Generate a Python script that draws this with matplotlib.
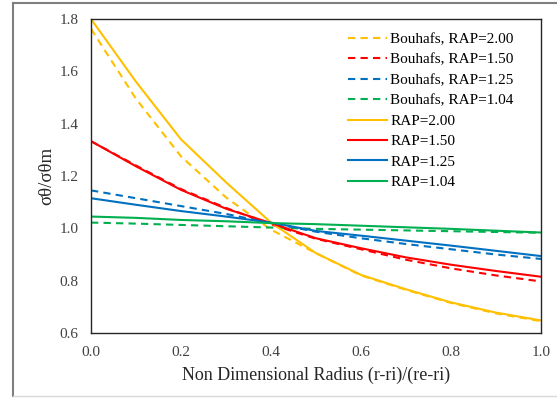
import matplotlib
matplotlib.use("Agg")
import matplotlib.pyplot as plt
from matplotlib.lines import Line2D

# radius positions (non dimensional)
r = [0.0, 0.1, 0.2, 0.3, 0.4, 0.5, 0.6, 0.7, 0.8, 0.9, 1.0]

# Bouhafs (dashed)
bouhafs_200 = [1.762, 1.495, 1.275, 1.118, 0.995, 0.905, 0.820, 0.765, 0.715, 0.675, 0.645]
bouhafs_150 = [1.333, 1.240, 1.150, 1.078, 1.015, 0.960, 0.920, 0.880, 0.847, 0.820, 0.797]
bouhafs_125 = [1.145, 1.115, 1.085, 1.055, 1.020, 0.987, 0.962, 0.940, 0.920, 0.900, 0.883]
bouhafs_104 = [1.022, 1.018, 1.013, 1.008, 1.003, 0.998, 0.995, 0.992, 0.989, 0.986, 0.983]

# present results (solid)
rap_200 = [1.800, 1.560, 1.340, 1.176, 1.022, 0.905, 0.822, 0.767, 0.717, 0.678, 0.648]
rap_150 = [1.333, 1.237, 1.147, 1.075, 1.020, 0.962, 0.924, 0.889, 0.861, 0.837, 0.815]
rap_125 = [1.115, 1.090, 1.066, 1.045, 1.022, 0.990, 0.972, 0.953, 0.934, 0.914, 0.894]
rap_104 = [1.045, 1.040, 1.032, 1.027, 1.020, 1.016, 1.010, 1.004, 0.998, 0.991, 0.984]

rap_labels = ["2.00", "1.50", "1.25", "1.04"]
colors = ["#FFC000", "#FF0000", "#0070C0", "#00B050"]

x_ticks = [0.0, 0.2, 0.4, 0.6, 0.8, 1.0]
y_ticks = [0.6, 0.8, 1.0, 1.2, 1.4, 1.6, 1.8]

plt.rcParams['font.family'] = ['Liberation Serif', 'DejaVu Serif']

fig = plt.figure(figsize=(5.57, 3.98), dpi=100)
ax = fig.add_axes([0.1634, 0.1633, 0.8079, 0.789])

dashed = [bouhafs_200, bouhafs_150, bouhafs_125, bouhafs_104]
solid = [rap_200, rap_150, rap_125, rap_104]

for vals, c, lab in zip(dashed, colors, rap_labels):
    ax.plot(r, vals, color=c, lw=1.5, dashes=(3.5, 2.5), label=f"Bouhafs, RAP={lab}")
for vals, c, lab in zip(solid, colors, rap_labels):
    ax.plot(r, vals, color=c, lw=1.5, label=f"RAP={lab}")

ax.set_xlim(0, 1)
ax.set_ylim(0.6, 1.8)
ax.set_xticks(x_ticks)
ax.set_yticks(y_ticks)
ax.set_xticklabels([f"{v:.1f}" for v in x_ticks])
ax.set_yticklabels([f"{v:.1f}" for v in y_ticks])
ax.tick_params(length=0, labelsize=11, colors="#404040", pad=9)
for s in ax.spines.values():
    s.set_color("#262626")
    s.set_linewidth(1.0)

ax.set_xlabel("Non Dimensional Radius (r-ri)/(re-ri)", fontsize=13, color="#262626", labelpad=6)
ax.set_ylabel("σθ/σθm", fontsize=13.5, color="#262626", labelpad=3)

ax.legend(loc="upper left", bbox_to_anchor=(0.548, 0.991), frameon=False,
          fontsize=11, handlelength=2.5, handletextpad=0.25, labelspacing=0.44,
          borderpad=0.2)

# outer gray frame
fig.add_artist(Line2D([0.0233, 0.0233], [0.005, 0.9925], color="#7f7f7f", lw=1.5))
fig.add_artist(Line2D([0.0233, 1.0], [0.9925, 0.9925], color="#7f7f7f", lw=1.5))
fig.add_artist(Line2D([0.0233, 1.0], [0.005, 0.005], color="#d9d9d9", lw=1.0))

fig.savefig("out.png", dpi=100)
